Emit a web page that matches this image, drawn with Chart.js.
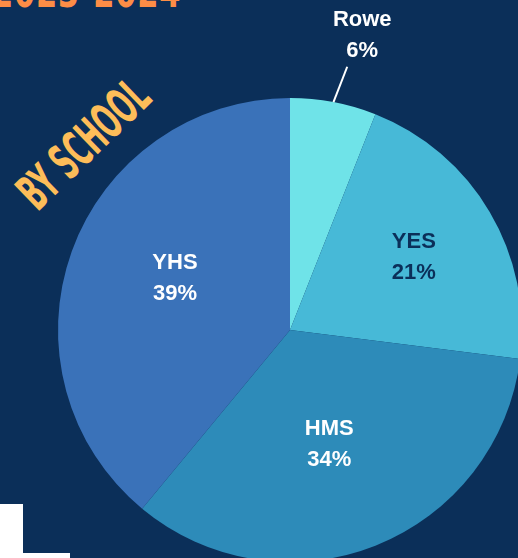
<!DOCTYPE html>
<html lang="en">
<head>
<meta charset="UTF-8">
<title>By School</title>
<script src="https://cdn.jsdelivr.net/npm/chart.js"></script>
<style>
    html, body { margin: 0; padding: 0; }
    body {
        width: 518px; height: 558px; overflow: hidden;
        background: #0b2f59; position: relative;
        font-family: 'Liberation Sans', Arial, sans-serif;
    }
    #year {
        position: absolute; left: -8px; top: -34px;
        color: #fd8d46; font-family: 'DejaVu Sans Condensed', sans-serif;
        font-weight: bold; font-size: 44px; letter-spacing: 1px;
        transform: scaleX(0.77); transform-origin: left top; white-space: nowrap;
    }
    #bySchool {
        position: absolute; left: 43px; top: 168px;
        color: #fdbd59; font-family: 'DejaVu Sans Condensed', sans-serif;
        font-weight: bold; font-size: 50px; white-space: nowrap; line-height: 1;
        transform-origin: left bottom; transform: rotate(-44deg) scaleX(0.56);
    }
    #pie { position: absolute; left: 0; top: 0; }
    .box1 { position: absolute; left: 0; top: 504px; width: 23px; height: 54px; background: #fff; }
    .box2 { position: absolute; left: 0; top: 553px; width: 70px; height: 5px; background: #fff; }
</style>
</head>
<body>
<div id="year">2023-2024</div>
<div id="bySchool">BY SCHOOL</div>
<canvas id="pie" width="580" height="660"></canvas>
<div class="box1"></div>
<div class="box2"></div>
<script>
    const schools = ['Rowe', 'YES', 'HMS', 'YHS'];
    const shares = [6, 21, 34, 39];
    const sliceColors = ['#6fe3e8', '#47b9d7', '#2d8bb9', '#3a72b9'];
    const labelColors = ['#ffffff', '#0b2f59', '#ffffff', '#ffffff'];
    const labelRadius = [0, 0.62, 0.53, 0.55];   // fraction of radius, 0 = outside with leader line
    const labelShift = [[0, 0], [0, 0], [-6, 0], [5, -9]];

    const sliceLabels = {
        id: 'sliceLabels',
        afterDatasetsDraw(chart) {
            const ctx = chart.ctx;
            const meta = chart.getDatasetMeta(0);
            ctx.save();
            ctx.font = 'bold 22px "Liberation Sans", Arial, sans-serif';
            ctx.textAlign = 'center';
            ctx.textBaseline = 'middle';
            meta.data.forEach((arc, i) => {
                const mid = (arc.startAngle + arc.endAngle) / 2;
                const r = arc.outerRadius;
                const lines = [schools[i], shares[i] + '%'];
                let x, y;
                if (labelRadius[i] === 0) {
                    const x1 = arc.x + Math.cos(mid) * r, y1 = arc.y + Math.sin(mid) * r;
                    const x2 = arc.x + Math.cos(mid) * (r + 36) + 7, y2 = arc.y + Math.sin(mid) * (r + 36);
                    ctx.strokeStyle = '#ffffff';
                    ctx.lineWidth = 2;
                    ctx.beginPath();
                    ctx.moveTo(x1, y1);
                    ctx.lineTo(x2, y2);
                    ctx.stroke();
                    x = x2 + 15; y = y2 - 32;
                } else {
                    x = arc.x + Math.cos(mid) * r * labelRadius[i];
                    y = arc.y + Math.sin(mid) * r * labelRadius[i];
                }
                x += labelShift[i][0];
                y += labelShift[i][1];
                ctx.fillStyle = labelColors[i];
                ctx.fillText(lines[0], x, y - 15);
                ctx.fillText(lines[1], x, y + 16);
            });
            ctx.restore();
        }
    };

    new Chart(document.getElementById('pie'), {
        type: 'pie',
        data: {
            labels: schools,
            datasets: [{
                data: shares,
                backgroundColor: sliceColors,
                borderWidth: 0
            }]
        },
        options: {
            responsive: false,
            animation: false,
            layout: { padding: { left: 58, top: 98, right: 58, bottom: 98 } },
            plugins: {
                legend: { display: false },
                tooltip: { enabled: false }
            }
        },
        plugins: [sliceLabels]
    });
</script>
</body>
</html>
